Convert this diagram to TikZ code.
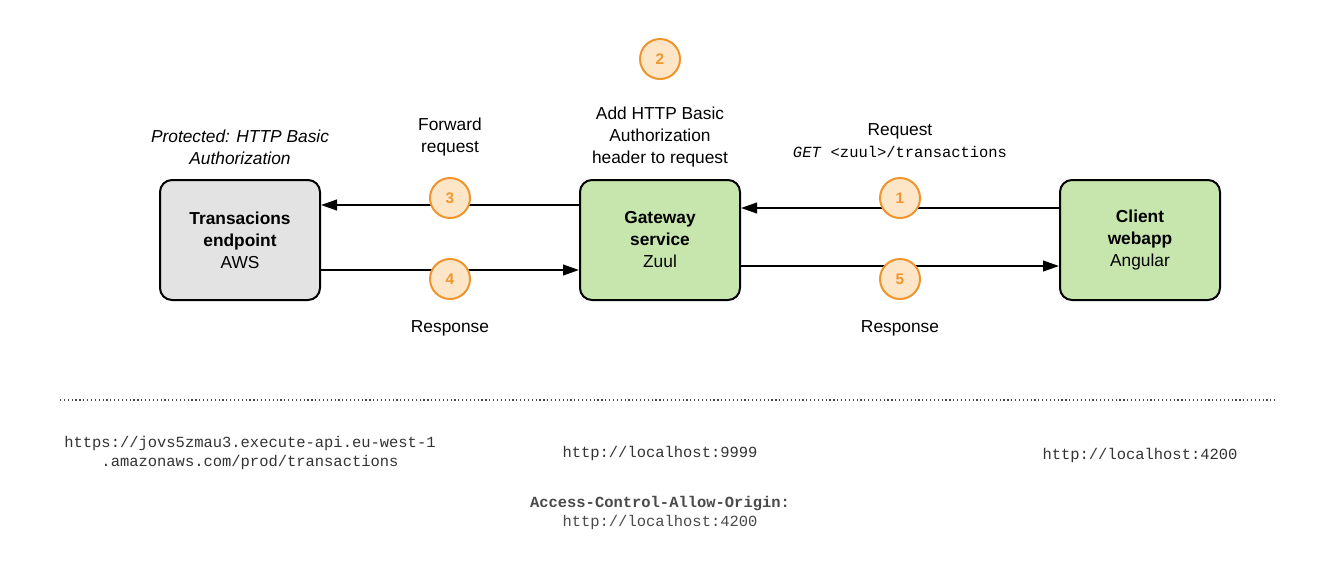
\documentclass[tikz,border=0pt]{standalone}
\usepackage{fontspec}
\setmainfont{Liberation Sans}
\setmonofont{Liberation Mono}
\usetikzlibrary{arrows.meta}
\definecolor{boxgray}{HTML}{E3E3E3}
\definecolor{boxgreen}{HTML}{C7E6AD}
\definecolor{circfill}{HTML}{FDE5C8}
\definecolor{circline}{HTML}{F0952C}
\definecolor{monogray}{HTML}{333333}
\definecolor{hdrgray}{HTML}{4A4A4A}
\tikzset{
  box/.style={draw=black, line width=1.5pt, rounded corners=9pt, minimum width=120pt, minimum height=90pt, align=center, font=\fontsize{13}{16.5}\selectfont, inner sep=0pt},
  num/.style={circle, draw=circline, fill=circfill, line width=1.5pt, minimum size=30pt, inner sep=0pt, text=circline, font=\fontsize{11.5}{12}\selectfont\bfseries},
  lbl/.style={align=center, font=\fontsize{13}{16.5}\selectfont, inner sep=0pt},
  mono/.style={align=center, font=\fontsize{11.6}{14}\selectfont\ttfamily, text=monogray, inner sep=0pt},
  arr/.style={line width=1.5pt, -{Triangle[length=12pt,width=8pt]}},
}
\begin{document}
\begin{tikzpicture}[x=0.75pt,y=-0.75pt]
\path[fill=white,use as bounding box] (0,0) rectangle (1320,583);
% boxes
\node[box, fill=boxgray] (tr) at (240,240) {\textbf{Transacions}\\\textbf{endpoint}\\AWS};
\node[box, fill=boxgreen] (gw) at (660,240) {\textbf{Gateway}\\\textbf{service}\\Zuul};
\node[box, fill=boxgreen] (cl) at (1140,240) {\textbf{Client}\\\textbf{webapp}\\Angular};
% connectors
\draw[arr] ([yshift=26.25pt]gw.west) -- ([yshift=26.25pt]tr.east);
\draw[arr] ([yshift=-22.5pt]tr.east) -- ([yshift=-22.5pt]gw.west);
\draw[arr] ([yshift=24pt]cl.west) -- ([yshift=24pt]gw.east);
\draw[arr] ([yshift=-19.5pt]gw.east) -- ([yshift=-19.5pt]cl.west);
% numbers
\node[num] (n1) at (900,198) {1};
\node[num] (n2) at (660,59) {2};
\node[num] (n3) at (450,198) {3};
\node[num] (n4) at (450,279) {4};
\node[num] (n5) at (900,279) {5};
% labels
\node[lbl, font=\fontsize{13}{16.5}\selectfont\itshape] (lprot) at (240,147) {Protected: HTTP Basic\\Authorization};
\node[lbl] (lfwd) at (450,137) {Forward\\request};
\node[lbl] (ladd) at (660,137) {Add HTTP Basic\\Authorization\\header to request};
\node[lbl] (lreq) at (900,131) {Request};
\node[mono, text=black] (lget) at (900,152) {\textit{GET} <zuul>/transactions};
\node[lbl] (lres1) at (450,328) {Response};
\node[lbl] (lres2) at (900,328) {Response};
% dotted separator
\coordinate (sepL) at (60,400);
\coordinate (sepR) at (1277,400);
\draw[dotted, line width=0.9pt, draw=hdrgray] (sepL) -- (sepR);
% urls
\node[mono] (uaws) at (250,453) {https://jovs5zmau3.execute-api.eu-west-1\\.amazonaws.com/prod/transactions};
\node[mono] (ugw) at (660,453) {http://localhost:9999};
\node[mono] (ucl) at (1140,455) {http://localhost:4200};
\node[mono, text=hdrgray] (uhdr) at (660,513) {\textbf{Access-Control-Allow-Origin:}\\http://localhost:4200};
\end{tikzpicture}
\end{document}
